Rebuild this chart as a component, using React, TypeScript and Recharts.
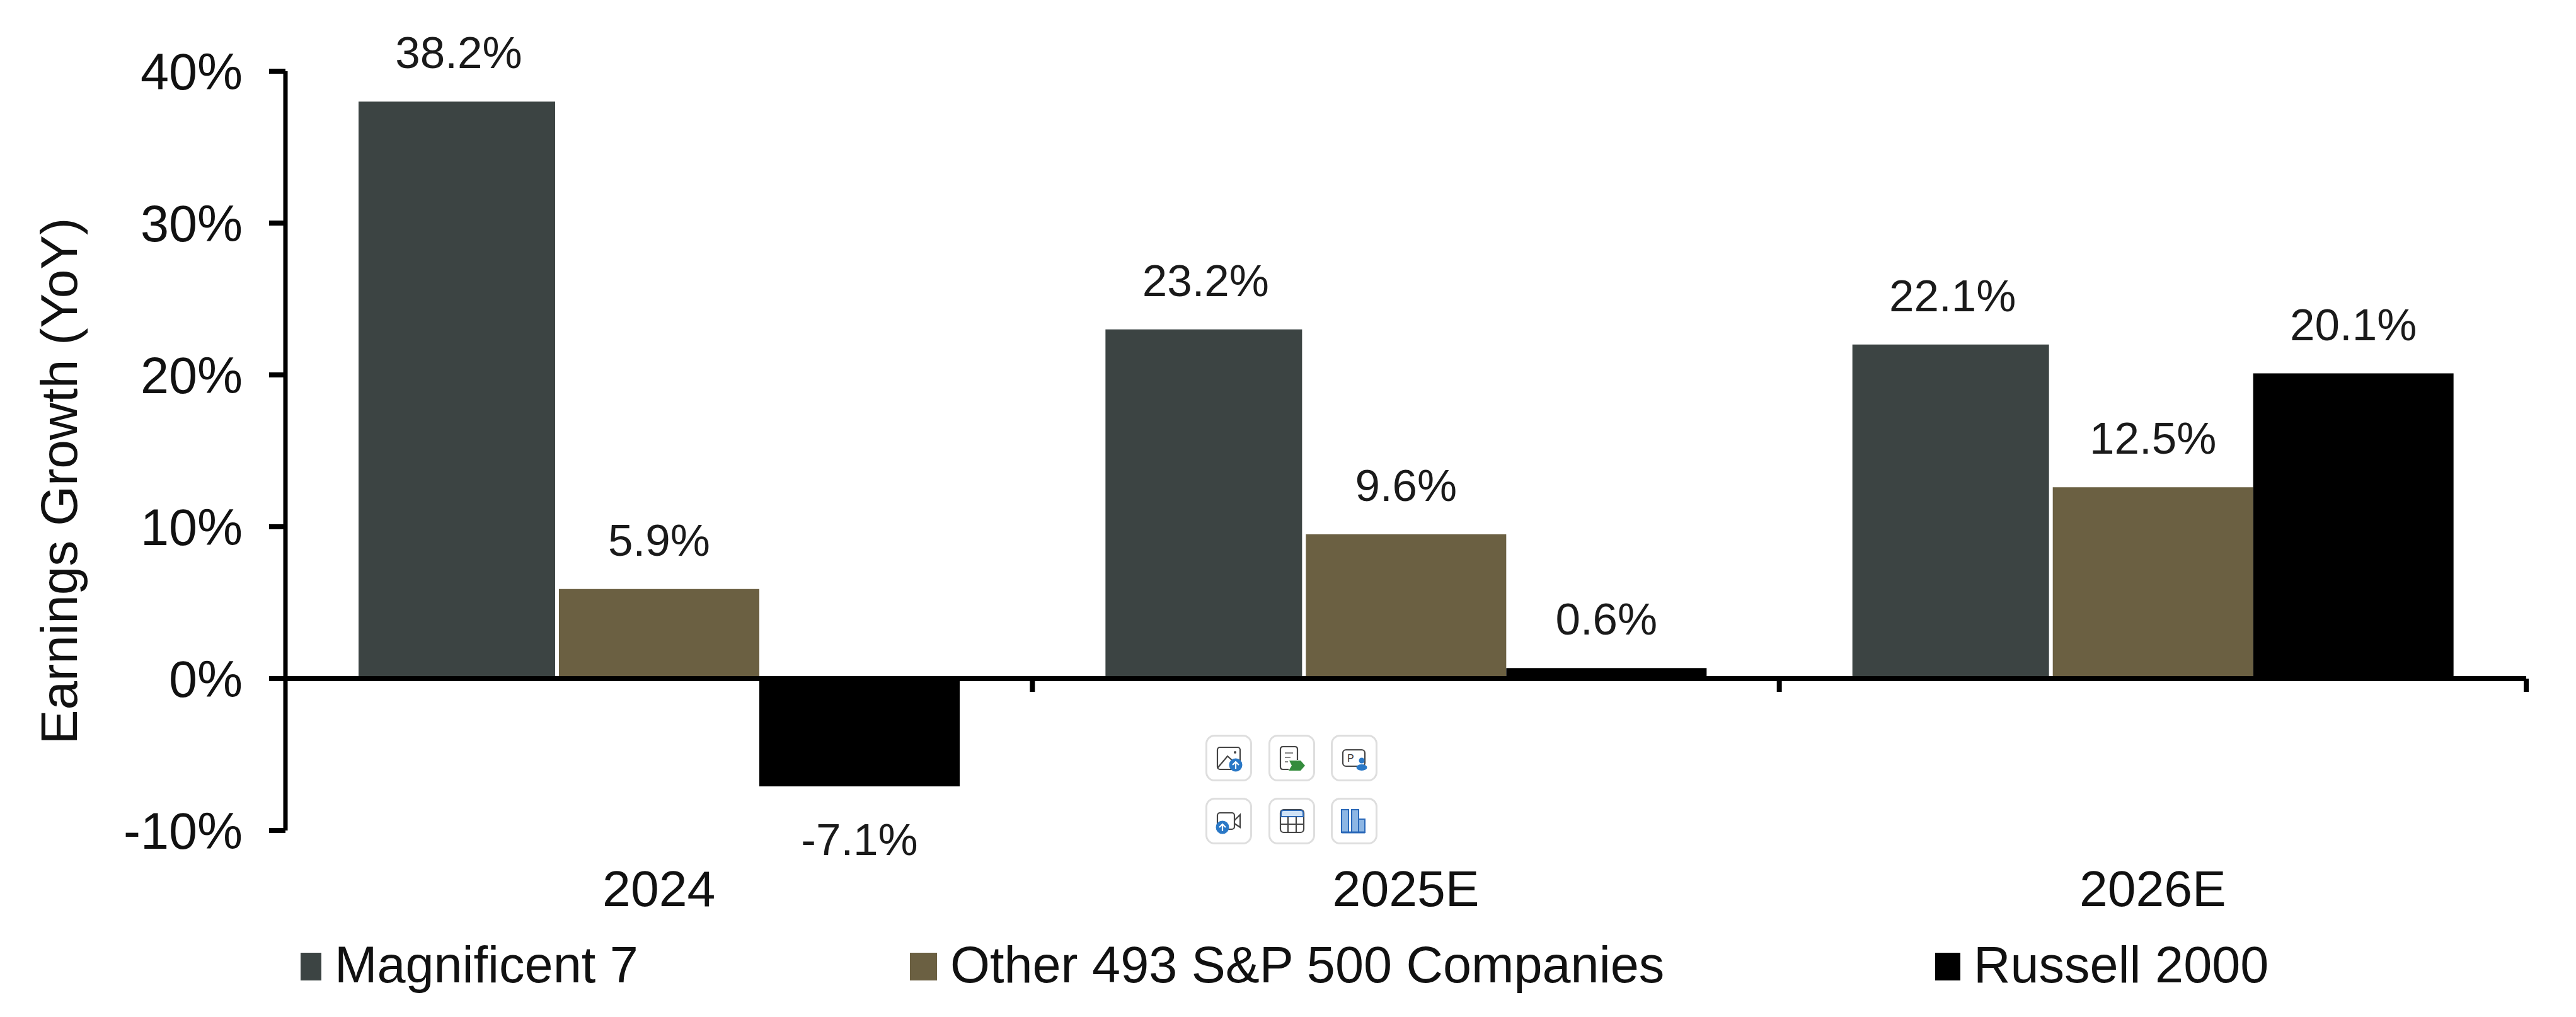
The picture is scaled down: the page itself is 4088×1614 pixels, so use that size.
import { BarChart, Bar, XAxis, YAxis, ReferenceLine, Legend, LabelList, Rectangle } from "recharts";

const FONT = '"Liberation Sans", Arial, sans-serif';

const categories = ["2024", "2025E", "2026E"];
const yTicks = [-10, 0, 10, 20, 30, 40];

// bar heights as read off the picture, the printed labels are kept apart
const magnificent7 = [38.0, 23.0, 22.0];
const other493 = [5.9, 9.5, 12.6];
const russell2000 = [-7.1, 0.7, 20.1];
const magnificent7Labels = ["38.2%", "23.2%", "22.1%"];
const other493Labels = ["5.9%", "9.6%", "12.5%"];
const russell2000Labels = ["-7.1%", "0.6%", "20.1%"];

const boundaries = [1, 2, 3];

const rows = categories.map((category, i) => ({
  category,
  boundary: boundaries[i],
  magnificent7: magnificent7[i],
  other493: other493[i],
  russell2000: russell2000[i],
  magnificent7Label: magnificent7Labels[i],
  other493Label: other493Labels[i],
  russell2000Label: russell2000Labels[i],
}));

const legendLefts = [477, 1444, 3071];
const legendSwatchWidths = [33, 43, 40];

function BarValueLabel(props: any) {
  const { x, y, width, height, value } = props;
  const top = Math.min(y, y + height);
  const bottom = Math.max(y, y + height);
  const negative = String(value).startsWith("-");
  return (
    <text
      x={x + width / 2}
      y={negative ? bottom + 109 : top - 53}
      textAnchor="middle"
      fontFamily={FONT}
      fontSize={71}
      fill="#1a1a1a"
    >
      {value}
    </text>
  );
}

function LegendRow({ payload }: any) {
  return (
    <div style={{ position: "relative", width: 4088, height: 100 }}>
      {(payload || []).map((item: any, i: number) => (
        <div key={item.value} style={{ position: "absolute", left: legendLefts[i], top: 0, whiteSpace: "nowrap" }}>
          <span
            style={{
              position: "absolute",
              left: 0,
              top: 31,
              width: legendSwatchWidths[i],
              height: 44,
              background: item.color,
            }}
          />
          <span
            style={{
              position: "absolute",
              left: legendSwatchWidths[i] + 21,
              top: 0,
              fontFamily: FONT,
              fontSize: 81,
              lineHeight: "100px",
              color: "#111",
            }}
          >
            {item.value}
          </span>
        </div>
      ))}
    </div>
  );
}

function ToolIcons() {
  const box = (x: number, y: number) => (
    <rect x={x + 1.5} y={y + 1.5} width={71} height={71} rx={13} fill="#fff" stroke="#dedede" strokeWidth={3} />
  );
  const upload = (cx: number, cy: number) => (
    <g>
      <circle cx={cx} cy={cy} r={10.5} fill="#2a78c6" />
      <path d={`M${cx} ${cy + 6}V${cy - 5}M${cx - 5} ${cy}L${cx} ${cy - 5}L${cx + 5} ${cy}`} stroke="#fff" strokeWidth={2.2} fill="none" />
    </g>
  );
  const ink = { fill: "none", stroke: "#444", strokeWidth: 2.2 };
  return (
    <svg width={280} height={180} style={{ position: "absolute", left: 1910, top: 1163 }}>
      <g transform="translate(3 3)">
        {box(0, 0)}
        <rect x={19} y={20} width={36} height={35} rx={4} {...ink} />
        <path d="M19 53L35 34L45 43" {...ink} />
        <circle cx={47} cy={28} r={2} fill="#444" />
        {upload(48, 48)}
      </g>
      <g transform="translate(103 3)">
        {box(0, 0)}
        <path d="M32 55H23Q19 55 19 51V23Q19 19 23 19H42Q46 19 46 23V40" {...ink} />
        <path d="M26 29H39M26 36H35M26 43H31" stroke="#888" strokeWidth={2} fill="none" />
        <path d="M33 41H51L58 49L51 57H32L37 49Z" fill="#348c3c" />
      </g>
      <g transform="translate(202 3)">
        {box(0, 0)}
        <rect x={19} y={24} width={35} height={26} rx={5} {...ink} />
        <text x={26} y={43} fontFamily={FONT} fontSize={16} fill="#333">P</text>
        <circle cx={49} cy={41} r={4.5} fill="#2a78c6" />
        <ellipse cx={49} cy={52} rx={8.5} ry={5} fill="#2a78c6" />
      </g>
      <g transform="translate(3 103)">
        {box(0, 0)}
        <rect x={19} y={24} width={27} height={26} rx={4} {...ink} />
        <path d="M46 36L55 27V47L46 41" {...ink} />
        {upload(27, 47)}
      </g>
      <g transform="translate(103 103)">
        {box(0, 0)}
        <rect x={19} y={19} width={37} height={36} rx={5} {...ink} />
        <path d="M20 30V24Q20 20 24 20H51Q55 20 55 24V30Z" fill="#cfe2f6" stroke="#2a68b8" strokeWidth={2} />
        <path d="M19 42H56M31 30V55M44 30V55" {...ink} />
      </g>
      <g transform="translate(202 103)">
        {box(0, 0)}
        <path d="M17 19H28V55H17ZM33 19H44V55H33ZM44 34H54V55H44Z" fill="#8db6e4" stroke="#2a68b8" strokeWidth={2} />
        <path d="M17 55H54" stroke="#2a68b8" strokeWidth={3} />
      </g>
    </svg>
  );
}

export default function App() {
  return (
    <div style={{ position: "absolute", left: 0, top: 0, width: 4088, height: 1614, background: "#fff" }}>
      <BarChart
        width={4088}
        height={1614}
        data={rows}
        barSize={318}
        barGap={0}
        margin={{ top: 113, right: 79, bottom: 96, left: 0 }}
      >
        <XAxis
          dataKey="category"
          axisLine={false}
          tickLine={false}
          height={100}
          tickMargin={57}
          tick={{ fontFamily: FONT, fontSize: 80.5, fill: "#111" }}
          interval={0}
        />
        <XAxis xAxisId="boundaries" dataKey="boundary" type="number" domain={[0, 3]} allowDataOverflow hide />
        <YAxis
          width={453}
          domain={[-10, 40]}
          ticks={yTicks}
          interval={0}
          tickFormatter={(v: number) => `${v}%`}
          tick={{ fontFamily: FONT, fontSize: 81, fill: "#111" }}
          tickSize={26}
          tickMargin={42}
          axisLine={{ stroke: "#000", strokeWidth: 7 }}
          tickLine={{ stroke: "#000", strokeWidth: 8 }}
          label={(props: any) => {
            const { viewBox } = props;
            const cy = viewBox.y + viewBox.height / 2 + 48;
            return (
              <text
                transform={`rotate(-90 94 ${cy})`}
                x={94}
                y={cy + 28}
                textAnchor="middle"
                fontFamily={FONT}
                fontSize={82}
                fill="#111"
              >
                Earnings Growth (YoY)
              </text>
            );
          }}
        />
        <Legend
          verticalAlign="bottom"
          height={100}
          content={<LegendRow />}
          wrapperStyle={{ left: 0, top: 1481, bottom: "auto", width: 4088 }}
        />
        <Bar
          dataKey="magnificent7"
          name="Magnificent 7"
          fill="#3c4443"
          isAnimationActive={false}
          shape={(props: any) => <Rectangle {...props} width={props.width - 6} />}
        >
          <LabelList dataKey="magnificent7Label" content={<BarValueLabel />} />
        </Bar>
        <Bar dataKey="other493" name="Other 493 S&P 500 Companies" fill="#6b6042" isAnimationActive={false}>
          <LabelList dataKey="other493Label" content={<BarValueLabel />} />
        </Bar>
        <Bar dataKey="russell2000" name="Russell 2000" fill="#000000" isAnimationActive={false}>
          <LabelList dataKey="russell2000Label" content={<BarValueLabel />} />
        </Bar>
        <ReferenceLine y={0} stroke="#000" strokeWidth={8} />
        {boundaries.map((b) => (
          <ReferenceLine
            key={b}
            xAxisId="boundaries"
            segment={[
              { x: b, y: 0 },
              { x: b, y: -0.87 },
            ]}
            stroke="#000"
            strokeWidth={8}
          />
        ))}
      </BarChart>
      <ToolIcons />
    </div>
  );
}
